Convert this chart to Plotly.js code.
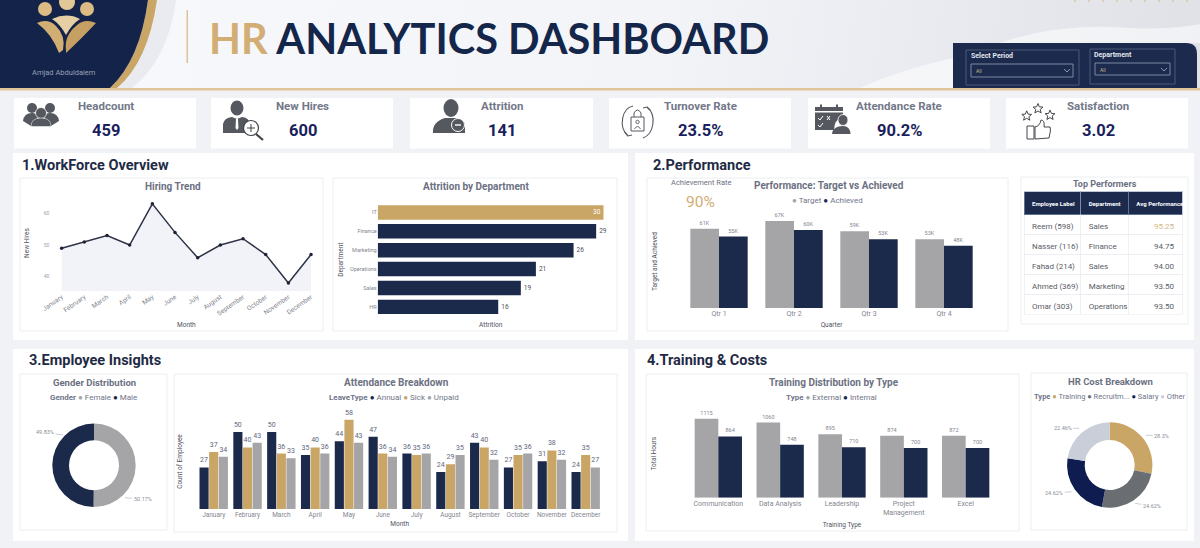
<!DOCTYPE html>
<html><head><meta charset="utf-8">
<script src="https://cdn.plot.ly/plotly-3.0.1.min.js"></script>
<style>
html,body{margin:0;padding:0;width:1200px;height:548px;overflow:hidden;background:#f1f2f6}
body{background:linear-gradient(100deg,#f8f9fc 0%,#f3f4f8 55%,#dfe1e7 100%) 0 0/1200px 89px no-repeat,#f1f2f6}
#c{width:1200px;height:548px}
</style></head><body><div id="c"></div>
<script>
// ---------- data ----------
const months=['January','February','March','April','May','June','July','August','September','October','November','December'];
const newHires=[49,51,53,50,63,54,46,50,52,47,38,47];
const departments=['IT','Finance','Marketing','Operations','Sales','HR'];
const attrition=[30,29,26,21,19,16];
const quarters=['Qtr 1','Qtr 2','Qtr 3','Qtr 4'];
const perfTarget=[61,67,59,53];
const perfAchieved=[55,60,53,48];
const tblEmployee=['Reem (598)','Nasser (116)','Fahad (214)','Ahmed (369)','Omar (303)'];
const tblDepartment=['Sales','Finance','Sales','Marketing','Operations'];
const tblPerformance=[95.25,94.75,94.00,93.50,93.50];
const tblHeaders=['Employee Label','Department','Avg Performance'];
const genderLabels=['Female','Male'];
const genderShare=[50.17,49.83];
const leaveAnnual=[27,50,50,35,44,47,36,24,43,27,31,24];
const leaveSick=[37,40,36,40,58,36,35,29,40,35,38,35];
const leaveUnpaid=[34,43,33,36,43,34,36,35,32,36,32,27];
const trainingTypes=['Communication','Data Analysis','Leadership','Project<br>Management','Excel'];
const trainExternal=[1115,1060,895,874,872];
const trainInternal=[864,748,710,700,700];
const costLabels=['Training','Recruitment','Salary','Other'];
const costShare=[28.3,24.62,24.62,22.46];
const kpiNames=['Headcount','New Hires','Attrition','Turnover Rate','Attendance Rate','Satisfaction'];
const kpiValues=['459','600','141','23.5%','90.2%','3.02'];

// ---------- style ----------
const NAVY='#1b2a4a',GOLD='#c9a566',GRAY='#a5a5a8',DARK='#55585e',MUTED='#6c7182',FONT='Roboto, "Noto Sans", sans-serif';
const W=1200,H=548;
const X=p=>p/W, Y=p=>1-p/H;
const dx=(a,b)=>[X(a),X(b)], dy=(t,b)=>[Y(b),Y(t)];
const shapes=[],annotations=[];
function pathOf(d){let i=0;return d.replace(/-?\d+(\.\d+)?/g,n=>{const v=(i++%2===0)?X(+n):Y(+n);return v.toFixed(5);});}
function rect(x0,y0,x1,y1,fill,line,lw){shapes.push({type:'rect',layer:'below',xref:'paper',yref:'paper',x0:X(x0),x1:X(x1),y0:Y(y0),y1:Y(y1),fillcolor:fill||'rgba(0,0,0,0)',line:{color:line||'rgba(0,0,0,0)',width:line?(lw||1):0}});}
function path(d,fill,line,lw,op){shapes.push({type:'path',layer:'below',xref:'paper',yref:'paper',path:pathOf(d),fillcolor:fill||'rgba(0,0,0,0)',opacity:op==null?1:op,line:{color:line||'rgba(0,0,0,0)',width:line?(lw||1):0}});}
function ell(cx,cy,rx,ry,fill,line,lw){shapes.push({type:'circle',layer:'below',xref:'paper',yref:'paper',x0:X(cx-rx),x1:X(cx+rx),y0:Y(cy+ry),y1:Y(cy-ry),fillcolor:fill||'rgba(0,0,0,0)',line:{color:line||'rgba(0,0,0,0)',width:line?(lw||1):0}});}
function txt(x,y,s,size,color,anchor,extra){annotations.push(Object.assign({xref:'paper',yref:'paper',x:X(x),y:Y(y),text:s,showarrow:false,xanchor:anchor||'center',yanchor:'middle',borderpad:0,font:{family:FONT,size:size,color:color}},extra||{}));}
function star(cx,cy,r){let d='';for(let i=0;i<10;i++){const a=-Math.PI/2+i*Math.PI/5,q=i%2?r*0.45:r;d+=(i?'L':'M')+(cx+q*Math.cos(a)).toFixed(1)+' '+(cy+q*Math.sin(a)).toFixed(1)+' ';}return d+'Z';}
const dot=c=>`<span style="color:${c}">●</span>`;
const nb=s=>s.replace(/ /g,'\u00A0');

// ---------- header ----------
path('M1000 43 Q1060 22 1130 28 Q1170 30 1200 24 L1200 43 Z','#ffffff',null,0,0.55);
path('M860 88 Q900 70 953 58 L953 88 Z','#ffffff',null,0,0.55);
for(let i=0;i<9;i++)ell(1075+i*14,1,1,1,'#d9c6a5');
path('M118 0 L176 0 Q168 60 132 88 L118 88 Z','#d9dbe3',null,0,0.45);
path('M148 0 L157 0 Q148 62 117 88 L110 88 Q140 60 148 0 Z',GOLD);
path('M0 0 L148 0 Q140 60 110 88 L0 88 Z','#14234a');
ell(45,9,7,7,'#dcbb85');ell(67,2,8,8,'#e3c897');ell(87,9,7,7,'#dcbb85');
path('M52 19 Q67 12 80 19 Q72 24 66 35 Q60 24 52 19 Z','#e6cfa4');
path('M37 23 Q48 18 56 26 Q66 36 63 50 L59 53 Q52 34 37 23 Z','#d2ae74');
path('M96 23 Q84 18 76 26 Q64 36 66 50 L66 53 Q80 40 96 23 Z','#c69f62');
txt(64,72,'Amjad Abduldaiem',7.5,'#96a0b6');
rect(186.5,10,188,63,'#dcc39a');
txt(208,38,'<b><span style="color:#d2ae74">HR</span> ANALYTICS DASHBOARD</b>',41.5,'#14264a','left',{font:{family:'Lato, "Noto Sans", sans-serif',size:41.5,color:'#14264a'}});
rect(0,88,1200,90.5,'#e0c49a');
// filter panel
path('M953 43 L1186 43 Q1197 43 1197 54 L1197 88 L953 88 Z','#1b2a4d');
rect(966,50,1079,85,null,'#4c5a7a',1);rect(971,64,1073,77,null,'#7d89a3',1);
rect(1090,49,1175,84,null,'#4c5a7a',1);rect(1095,63,1170,75,null,'#7d89a3',1);
path('M1064 69 L1067 72 L1070 69',null,'#aab3c6',0.8);path('M1161 68 L1164 71 L1167 68',null,'#aab3c6',0.8);
txt(970,55.5,'<b>Select Period</b>',7,'#e4e7ee','left');
txt(1093,55,'<b>Department</b>',7,'#e4e7ee','left');
txt(975,71,'All',5,'#c9b98a','left');txt(1099,70,'All',5,'#c9b98a','left');

// ---------- KPI cards ----------
const cards=[[14,196],[211,393],[410,593],[609,791],[808,990],[1006,1188]];
const kpiX=[105.5,302.5,502,700.5,899,1098];
cards.forEach((c,i)=>{rect(c[0],98,c[1],148.5,'#ffffff');
  txt(kpiX[i],106,'<b>'+kpiNames[i]+'</b>',11.5,'#737889');
  txt(kpiX[i],130,'<b>'+kpiValues[i]+'</b>',16.5,'#1b1f5c');});
// headcount icon
ell(32,108,5,5,DARK);ell(50,108,5,5,DARK);
path('M23 121 Q24 113 32 113 Q37 113 38 117 L31 126 Z',DARK);path('M59 121 Q58 113 50 113 Q45 113 44 117 L51 126 Z',DARK);
ell(41,113,5.5,5.5,DARK,'#ffffff',0.7);path('M31 126.5 Q31 118 41 118 Q51 118 51 126.5 Z',DARK,'#ffffff',0.5);
// new hires icon
ell(237,108,6.5,7.5,DARK);
path('M223 133 L223 124 Q224 118 232 117 L237 119 L242 117 Q250 118 249 124 L249 133 Z',DARK);
path('M236 119 L238 119 L238.5 128 L237 130 L235.5 128 Z','#ffffff');
path('M256 134 L263 140',null,'#3f4247',2.2);
ell(251,128,7.5,7.5,'#ffffff','#3f4247',1.2);path('M247 128 L255 128 M251 124 L251 132',null,'#3f4247',1);
// attrition icon
ell(451,108,7.5,9,DARK);
path('M433 133 Q432 122 445 118 L457 118 Q463 120 465 124 L465 133 Z',DARK);
ell(458,125,6.5,6.5,DARK,'#ffffff',1);path('M455 125 L461 125',null,'#ffffff',1.4);
// turnover icon
path('M633 106 C622 108 618 127 628 136 M643 138 C654 134 657 115 647 107',null,DARK,1.1);
path('M625 132 L628 136 L632 135 M650 110 L647 107 L643 108',null,DARK,1.1);
rect(631,117,644,131,null,DARK,1);path('M634 117 L634 113 Q637.5 107 641 113 L641 117',null,DARK,1);
ell(637.5,122,1.7,1.7,null,DARK,0.9);path('M634.5 129 Q637.5 124 640.5 129',null,DARK,0.9);
// attendance icon
rect(815,107,843,111,DARK);rect(820,104.5,822,109,DARK);rect(836,104.5,838,109,DARK);
path('M815 112.5 L843 112.5 L843 116 Q834 120 834 130 L815 130 Z',DARK);
path('M818 118 L820 120 L823 116 M818 125 L820 127 L823 123 M827 116 L830 120 M830 116 L827 120',null,'#ffffff',1);
ell(843,120,5,5.5,DARK,'#ffffff',0.8);path('M832 134 Q833 126 843 126 Q850 126 850.5 134 Z',DARK);
// satisfaction icon
[[1026.7,116],[1038,108.7],[1050,115.3]].forEach(s=>path(star(s[0],s[1],5.2),null,'#44474c',1));
rect(1027,126,1034,139,null,'#44474c',1);
path('M1035 127 Q1040 126 1041 120 Q1045 120 1044 127 L1050 127 Q1051 130 1050 133 L1049 138 L1035 139 Z',null,'#44474c',1);

// ---------- section panels & inner cards ----------
rect(13,153,628,340,'#ffffff');rect(635,153,1194,340,'#ffffff');
rect(13,349,628,541,'#ffffff');rect(635,349,1194,541,'#ffffff');
[[20,178,323,331],[333,178,617,331],[647,178,1008,331],[1021,177,1188,324],[20,374,167,530],[174,374,617,532],[646,374,1019,531],[1031,373,1187,530]]
 .forEach(c=>rect(c[0],c[1],c[2],c[3],'#ffffff','#eceef2',1));
txt(21,165,'<b>1.WorkForce Overview</b>',14.5,'#1f2b45','left');
txt(652,165,'<b>2.Performance</b>',14.5,'#1f2b45','left');
txt(28,361,'<b>3.Employee Insights</b>',14.5,'#1f2b45','left');
txt(646,361,'<b>4.Training &amp; Costs</b>',14.5,'#1f2b45','left');

// chart titles
txt(173,186.5,'<b>Hiring Trend</b>',10,MUTED);
txt(476,186.5,'<b>Attrition by Department</b>',10,MUTED);
txt(829,185,'<b>Performance: Target vs Achieved</b>',10,MUTED);
txt(1105,184,'<b>Top Performers</b>',9,MUTED);
txt(94.5,382,'<b>Gender Distribution</b>',9.5,MUTED);
txt(396,382,'<b>Attendance Breakdown</b>',10,MUTED);
txt(833.5,382,'<b>Training Distribution by Type</b>',10,MUTED);
txt(1110,381,'<b>HR Cost Breakdown</b>',9.5,MUTED);
txt(701,183,'Achievement Rate',7.5,MUTED);
txt(701,202,'90%',15.5,'#cfae73');
// legends
const LG='#70758a';
txt(827.5,200,`${dot(GRAY)} Target ${dot(NAVY)} Achieved`,8,LG);
txt(93,397,`<b>Gender</b> ${dot(GRAY)} Female ${dot(NAVY)} Male`,8,LG);
txt(394,398,`<b>LeaveType</b> ${dot(NAVY)} Annual ${dot(GOLD)} Sick ${dot(GRAY)} Unpaid`,8,LG);
txt(831,397,`<b>Type</b> ${dot(GRAY)} External ${dot(NAVY)} Internal`,8,LG);
txt(1109,396,`<b>Type</b> ${dot(GOLD)} Training ${dot('#6a6d72')} Recruitm... ${dot('#0f1c4f')} Salary ${dot('#c9ced8')} Other`,7.5,LG);

// pie labels with leader lines
function pieLabel(px,py,tx,ty,share){annotations.push({xref:'paper',yref:'paper',x:X(px),y:Y(py),text:share.toFixed(2).replace(/0$/,'')+'%',showarrow:true,arrowhead:0,arrowwidth:0.6,arrowcolor:'#a9adb6',standoff:0,ax:tx-px,ay:ty-py,font:{family:FONT,size:5.5,color:'#8a8e98'}});}
pieLabel(63,435,45,432.3,genderShare[1]);
pieLabel(125,497.7,142.7,499.3,genderShare[0]);
pieLabel(1146,435.3,1161.7,435.7,costShare[0]);
pieLabel(1135,503.3,1151.7,506,costShare[1]);
pieLabel(1071.7,491.7,1054.3,493.3,costShare[2]);
pieLabel(1079.3,428.3,1062.7,428.3,costShare[3]);

// ---------- traces ----------
const barText=(size,color)=>({size:size,color:color,family:FONT});
const k=a=>a.map(v=>v+'K');
const data=[
 {type:'scatter',mode:'lines+markers',name:'New Hires',x:months,y:newHires,xaxis:'x',yaxis:'y',fill:'tozeroy',fillcolor:'#f2f3f8',line:{color:'#2e3346',width:1.5},marker:{size:3.5,color:'#1e2236'}},
 {type:'bar',orientation:'h',name:'Attrition',x:attrition,y:departments,xaxis:'x2',yaxis:'y2',
  marker:{color:departments.map((d,i)=>i===0?GOLD:NAVY)},text:attrition.map(String),
  textposition:departments.map((d,i)=>i===0?'inside':'outside'),insidetextanchor:'end',constraintext:'none',cliponaxis:false,
  textfont:{size:6.5,family:FONT,color:departments.map((d,i)=>i===0?'#ffffff':'#4a4f5c')}},
 {type:'bar',name:'Target',x:quarters,y:perfTarget,xaxis:'x3',yaxis:'y3',marker:{color:GRAY},text:k(perfTarget),textposition:'outside',constraintext:'none',cliponaxis:false,textfont:barText(5.5,'#81858f')},
 {type:'bar',name:'Achieved',x:quarters,y:perfAchieved,xaxis:'x3',yaxis:'y3',marker:{color:NAVY},text:k(perfAchieved),textposition:'outside',constraintext:'none',cliponaxis:false,textfont:barText(5.5,'#81858f')},
 {type:'bar',name:'Annual',x:months,y:leaveAnnual,xaxis:'x4',yaxis:'y4',width:0.27,offset:-0.42,marker:{color:NAVY},text:leaveAnnual.map(String),textposition:'outside',constraintext:'none',cliponaxis:false,textfont:barText(7,'#5d667c')},
 {type:'bar',name:'Sick',x:months,y:leaveSick,xaxis:'x4',yaxis:'y4',width:0.27,offset:-0.135,marker:{color:GOLD},text:leaveSick.map(String),textposition:'outside',constraintext:'none',cliponaxis:false,textfont:barText(7,'#5d667c')},
 {type:'bar',name:'Unpaid',x:months,y:leaveUnpaid,xaxis:'x4',yaxis:'y4',width:0.27,offset:0.15,marker:{color:GRAY},text:leaveUnpaid.map(String),textposition:'outside',constraintext:'none',cliponaxis:false,textfont:barText(7,'#5d667c')},
 {type:'bar',name:'External',x:trainingTypes,y:trainExternal,xaxis:'x5',yaxis:'y5',marker:{color:GRAY},text:trainExternal.map(String),textposition:'outside',constraintext:'none',cliponaxis:false,textfont:barText(5.5,'#81858f')},
 {type:'bar',name:'Internal',x:trainingTypes,y:trainInternal,xaxis:'x5',yaxis:'y5',marker:{color:NAVY},text:trainInternal.map(String),textposition:'outside',constraintext:'none',cliponaxis:false,textfont:barText(5.5,'#81858f')},
 {type:'pie',name:'Gender',labels:genderLabels,values:genderShare,sort:false,direction:'clockwise',rotation:0,hole:0.6,textinfo:'none',marker:{colors:[GRAY,NAVY]},domain:{x:dx(52.3,135.7),y:dy(423.6,507)}},
 {type:'pie',name:'HR Cost',labels:costLabels,values:costShare,sort:false,direction:'clockwise',rotation:0,hole:0.585,textinfo:'none',marker:{colors:[GOLD,'#6a6d72','#0f1c4f','#c9ced8']},domain:{x:dx(1067,1152.4),y:dy(422.3,507.7)}},
 {type:'table',domain:{x:dx(1024,1183),y:dy(191.7,315)},columnwidth:[57,48,54],
  header:{values:tblHeaders.map(h=>'<b>'+nb(h)+'</b>'),height:22,align:'left',fill:{color:'#1b2a4d'},line:{color:'#8fa0bd',width:0.6},font:{family:FONT,size:6,color:'#ffffff'}},
  cells:{values:[tblEmployee.map(nb),tblDepartment,tblPerformance],format:['','','.2f'],height:20,align:['left','left','right'],fill:{color:'#ffffff'},line:{color:'#eceef2',width:0.8},
   font:{family:FONT,size:8,color:[tblEmployee.map(()=>'#5a5d66'),tblDepartment.map(()=>'#5a5d66'),tblPerformance.map((v,i)=>i===0?'#d3b683':'#5a5d66')]}}}
];

// ---------- axes ----------
const hidden={showgrid:false,zeroline:false,showline:false,showticklabels:false,ticks:''};
const catAxis=(size,color)=>({showgrid:false,zeroline:false,showline:false,ticks:'',type:'category',tickfont:{family:FONT,size:size,color:color}});
const axT=(s,st)=>({text:s,standoff:st,font:{family:FONT,size:6.5,color:'#50535e'}});
const layout={
 width:W,height:H,margin:{l:0,r:0,t:0,b:0,autoexpand:false},paper_bgcolor:'rgba(0,0,0,0)',plot_bgcolor:'rgba(0,0,0,0)',
 showlegend:false,bargap:0.235,bargroupgap:0,barmode:'group',font:{family:FONT},shapes:shapes,annotations:annotations,
 xaxis:Object.assign(catAxis(6.5,'#83868f'),{domain:dx(50.3,322.4),range:[-0.5,11.5],tickangle:-35,anchor:'y',title:axT('Month',5)}),
 yaxis:{domain:dy(195,291),range:[35.5,65.8],anchor:'x',showgrid:false,zeroline:false,showline:false,ticks:'',tickvals:[40,50,60],tickfont:{family:FONT,size:5,color:'#9a9da6'},title:axT('New Hires',13)},
 xaxis2:Object.assign({},hidden,{domain:dx(377.7,603.7),range:[0,30],anchor:'y2',title:axT('Attrition',6)}),
 yaxis2:Object.assign(catAxis(5.5,'#83868f'),{domain:dy(203,316.3),range:[5.5,-0.5],anchor:'x2',title:axT('Department',5)}),
 xaxis3:Object.assign(catAxis(7,'#83868f'),{domain:dx(681.5,981.5),range:[-0.5,3.5],anchor:'y3',title:axT('Quarter',5)}),
 yaxis3:Object.assign({},hidden,{domain:dy(215,308),range:[0,71.6],anchor:'x3',title:axT('Target and Achieved',22)}),
 xaxis4:Object.assign(catAxis(6.5,'#83868f'),{domain:dx(196.8,602.6),range:[-0.5,11.5],tickangle:0,anchor:'y4',title:axT('Month',3)}),
 yaxis4:Object.assign({},hidden,{domain:dy(414,509),range:[0,61.7],anchor:'x4',title:axT('Count of Employee',12)}),
 xaxis5:Object.assign(catAxis(7,'#83868f'),{domain:dx(687.4,996.6),range:[-0.5,4.5],tickangle:0,anchor:'y5',title:axT('Training Type',6)}),
 yaxis5:Object.assign({},hidden,{domain:dy(409.7,497.7),range:[0,1241],anchor:'x5',title:axT('Total Hours',29)})
};
Plotly.newPlot('c',data,layout,{staticPlot:true,displayModeBar:false});
</script></body></html>
